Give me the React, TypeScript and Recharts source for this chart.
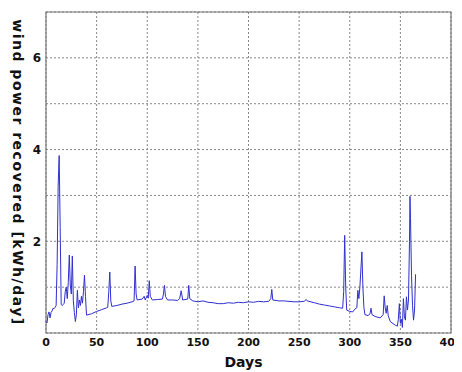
import React from "react";
import { LineChart, Line, XAxis, YAxis, CartesianGrid, ReferenceArea } from "recharts";

const days: number[] = [
  0, 1, 2, 3, 4, 5, 6, 7, 8, 9, 10, 11, 12, 13, 14, 15, 16, 17, 18, 19, 20,
  21, 22, 23, 24, 25, 26, 27, 28, 29, 30, 31, 32, 33, 34, 35, 36, 37, 38, 39, 40,
  45, 50, 55, 60, 61, 62, 63, 64, 65, 70, 75, 80, 85, 87, 88, 89, 90, 95, 97, 98,
  100, 101, 102, 103, 105, 110, 115, 116, 117, 118, 120, 125, 130, 132, 133.5, 135,
  140, 141, 142, 145, 150, 155, 160, 165, 170, 175, 180, 185, 190, 195, 200, 205,
  210, 215, 220, 222, 223, 224, 230, 235, 240, 245, 250, 255, 257, 258, 265, 270,
  275, 280, 285, 290, 293, 294, 295, 296, 297, 300, 303, 305, 307, 308, 309, 310,
  312, 313, 314, 315, 318, 320, 321, 322, 325, 330, 333, 334, 335, 336, 337, 338,
  340, 345, 347, 348, 349, 350, 351, 352, 353, 354, 355, 356, 357, 358, 359, 359.5,
  360, 361, 362, 363, 364, 365,
];

const power: number[] = [
  0.25, 0.22, 0.4, 0.46, 0.33, 0.45, 0.48, 0.54, 0.53, 0.56, 0.6, 1.5, 3.2, 3.87, 2.3, 0.62, 0.6, 0.62, 0.65, 0.9, 1.0,
  0.75, 1.1, 1.7, 1.05, 0.85, 1.68, 0.7, 0.45, 0.25, 0.4, 0.93, 0.55, 0.72, 0.6, 0.8, 0.65, 0.9, 1.26, 0.8, 0.39,
  0.42, 0.47, 0.51, 0.55, 0.56, 0.9, 1.33, 0.7, 0.58, 0.6, 0.63, 0.65, 0.68, 0.7, 1.46, 0.85, 0.72, 0.74, 0.8, 0.72,
  0.82, 0.76, 1.14, 0.8, 0.72, 0.73, 0.74, 0.85, 1.04, 0.8, 0.72, 0.72, 0.71, 0.75, 0.92, 0.72,
  0.74, 1.04, 0.75, 0.7, 0.68, 0.7, 0.67, 0.66, 0.64, 0.64, 0.66, 0.65, 0.67, 0.66, 0.68, 0.67,
  0.69, 0.68, 0.69, 0.75, 0.95, 0.72, 0.7, 0.7, 0.69, 0.68, 0.68, 0.69, 0.73, 0.7, 0.66, 0.63,
  0.61, 0.59, 0.57, 0.55, 0.54, 0.9, 2.13, 1.0, 0.5, 0.47, 0.46, 0.52, 0.55, 0.93, 0.75, 1.0,
  1.77, 1.0, 0.55, 0.4, 0.38, 0.42, 0.54, 0.4, 0.36, 0.33, 0.4, 0.81, 0.55, 0.43, 0.6, 0.38,
  0.25, 0.17, 0.15, 0.3, 0.64, 0.21, 0.3, 0.12, 0.75, 0.35, 0.28, 0.79, 0.5, 0.72, 2.0, 2.98,
  2.5, 1.26, 0.6, 0.28, 0.5, 1.28,
];

const xTicks: number[] = [0, 50, 100, 150, 200, 250, 300, 350, 400];
const yTicks: number[] = [0, 1, 2, 3, 4, 5, 6, 7];
const yLabelValues: number[] = [2, 4, 6];

const data = days.map((d, i) => ({ day: d, power: power[i] }));

const font = "'DejaVu Sans', Verdana, sans-serif";

export default function App() {
  return (
    <LineChart
      width={454}
      height={364}
      data={data}
      margin={{ top: 4, right: 11, left: 0, bottom: 0 }}
    >
      <CartesianGrid
        stroke="#888"
        strokeDasharray="2 2"
        horizontalValues={yTicks}
        verticalValues={xTicks}
      />
      <XAxis
        dataKey="day"
        type="number"
        domain={[0, 400]}
        ticks={xTicks}
        height={39}
        tickLine={false}
        tickSize={3}
        axisLine={false}
        tick={{ fill: "#111", fontSize: 11, fontWeight: "bold", fontFamily: font }}
        label={{
          value: "Days",
          position: "insideBottom",
          offset: 5,
          dx: -5,
          style: { fill: "#111", fontSize: 14, fontWeight: "bold", fontFamily: font },
        }}
      />
      <YAxis
        type="number"
        domain={[0, 7]}
        ticks={yTicks}
        width={38}
        tickLine={false}
        tickSize={3}
        axisLine={false}
        tickFormatter={(v: number) => (yLabelValues.includes(v) ? String(v) : "")}
        tick={{ fill: "#111", fontSize: 12, fontWeight: "bold", fontFamily: font }}
        label={{
          value: "wind power recovered [kWh/day]",
          angle: 90,
          position: "insideLeft",
          offset: 10,
          style: {
            fill: "#111",
            fontSize: 14,
            fontWeight: "bold",
            fontFamily: font,
            textAnchor: "middle",
            letterSpacing: 1.5,
          },
        }}
      />
      <ReferenceArea x1={0} x2={400} y1={0} y2={7} fill="none" stroke="#777" strokeWidth={1.2} ifOverflow="visible" />
      <Line
        type="linear"
        dataKey="power"
        stroke="#3030d0"
        strokeWidth={1}
        dot={false}
        isAnimationActive={false}
      />
    </LineChart>
  );
}
